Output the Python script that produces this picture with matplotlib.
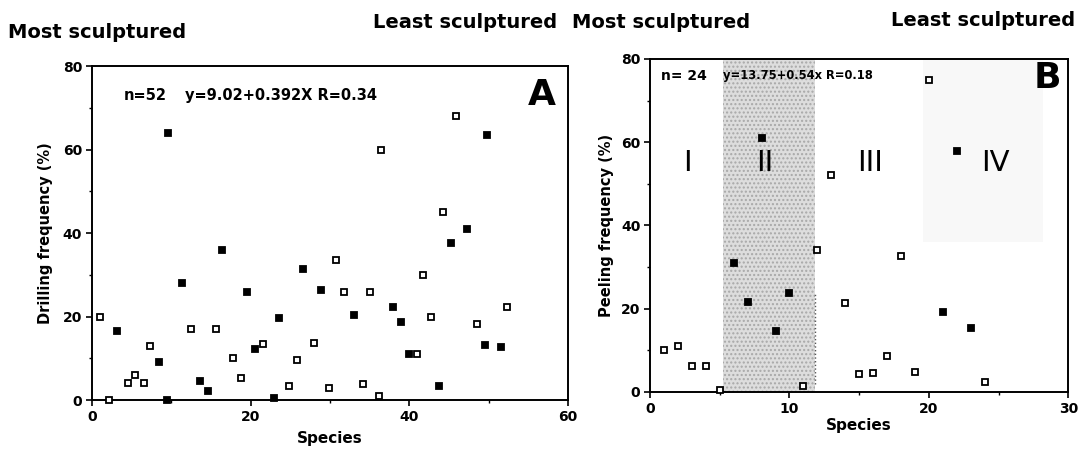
import matplotlib
matplotlib.use("Agg")
import matplotlib.pyplot as plt
from matplotlib.ticker import MultipleLocator

plt.rcParams['font.family'] = ['DejaVu Sans']
plt.rcParams['font.weight'] = 'bold'

# Panel A: drilling frequency vs species (n=52)
a_x = [1, 2.2, 3.2, 4.5, 5.4, 6.5, 7.3, 8.4, 9.5, 9.6,
       11.3, 12.5, 13.6, 14.6, 15.6, 16.4, 17.8, 18.8, 19.5, 20.6,
       21.6, 23, 23.6, 24.8, 25.8, 26.6, 28, 28.9, 29.9, 30.7,
       31.8, 33, 34.1, 35, 36.2, 36.4, 38, 39, 40, 41,
       41.7, 42.7, 43.8, 44.2, 45.3, 45.9, 47.3, 48.5, 49.5, 49.8,
       51.5, 52.3]
a_y = [20, 0, 16.5, 4, 6, 4, 13, 9, 0, 64,
       28, 17, 4.5, 2.2, 17, 36, 10, 5.2, 26, 12.2,
       13.4, 0.6, 19.6, 3.4, 9.5, 31.3, 13.6, 26.4, 2.9, 33.6,
       25.8, 20.4, 3.9, 25.8, 1, 60, 22.4, 18.8, 11, 11,
       30, 20, 3.4, 45, 37.6, 68, 41, 18.2, 13.3, 63.6,
       12.6, 22.4]
a_filled = [0, 0, 1, 0, 0, 0, 0, 1, 1, 1,
            1, 0, 1, 1, 0, 1, 0, 0, 1, 1,
            0, 1, 1, 0, 0, 1, 0, 1, 0, 0,
            0, 1, 0, 0, 0, 0, 1, 1, 1, 0,
            0, 0, 1, 0, 1, 0, 1, 0, 1, 1,
            1, 0]

# Panel B: peeling frequency vs species (n=24)
b_x = list(range(1, 25))
b_y = [10, 11, 6.3, 6.3, 0.5, 31, 21.6, 61, 14.7, 23.8,
       1.4, 34.1, 52.2, 21.3, 4.4, 4.5, 8.6, 32.7, 4.9, 75,
       19.2, 58, 15.4, 2.5]
b_filled = [0, 0, 0, 0, 0, 1, 1, 1, 1, 1,
            0, 0, 0, 0, 0, 0, 0, 0, 0, 0,
            1, 1, 1, 0]

zones = ['I', 'II', 'III', 'IV']
zone_x = [2.7, 8.2, 15.8, 24.8]


def draw_points(ax, xs, ys, filled):
    for x, y, f in zip(xs, ys, filled):
        ax.plot(x, y, 's', ms=4.2, mec='black', mew=1.3,
                mfc='black' if f else 'white', zorder=5, clip_on=False)


def style_axis(ax, xmax, xmajor, xminor):
    ax.set_xlim(0, xmax)
    ax.set_ylim(0, 80)
    ax.xaxis.set_major_locator(MultipleLocator(xmajor))
    ax.xaxis.set_minor_locator(MultipleLocator(xminor))
    ax.yaxis.set_major_locator(MultipleLocator(20))
    ax.yaxis.set_minor_locator(MultipleLocator(10))
    ax.tick_params(which='major', direction='out', length=4, width=1.2,
                   labelsize=10, pad=3)
    ax.tick_params(which='minor', direction='out', length=2.5, width=1)
    for s in ax.spines.values():
        s.set_linewidth(1.4)
    for lab in ax.get_xticklabels() + ax.get_yticklabels():
        lab.set_fontweight('bold')


fig = plt.figure(figsize=(10.78, 4.5), dpi=100)

axA = fig.add_axes([0.0853, 0.111, 0.4416, 0.742])
style_axis(axA, 60, 20, 10)
draw_points(axA, a_x, a_y, a_filled)
axA.set_xlabel('Species', fontsize=11, fontweight='bold', labelpad=5)
axA.set_ylabel('Drilling frequency (%)', fontsize=10.5, fontweight='bold', labelpad=7)
axA.text(4, 73, 'n=52', fontsize=10.5, fontweight='bold', va='center')
axA.text(11.7, 73, 'y=9.02+0.392X R=0.34', fontsize=10.5, fontweight='bold', va='center')
axA.text(58.5, 73, 'A', fontsize=26, fontweight='bold', ha='right', va='center')

axB = fig.add_axes([0.603, 0.129, 0.388, 0.74])
style_axis(axB, 30, 10, 5)
axB.axvspan(5.2, 11.8, facecolor='#dddddd', edgecolor='#a8a8a8',
            hatch='....', linewidth=0, zorder=0)
axB.axvspan(19.6, 28.2, ymin=0.45, facecolor='#f8f8f8', linewidth=0, zorder=0)
axB.plot([11.8, 11.8], [2, 24], ls=':', color='#555555', lw=1, zorder=1)
draw_points(axB, b_x, b_y, b_filled)
for z, zx in zip(zones, zone_x):
    axB.text(zx, 55, z, fontsize=21, fontweight='normal', ha='center', va='center')
axB.set_xlabel('Species', fontsize=11, fontweight='bold', labelpad=2)
axB.set_ylabel('Peeling frequency (%)', fontsize=10.5, fontweight='bold', labelpad=5)
axB.text(0.8, 76, 'n= 24', fontsize=10, fontweight='bold', va='center')
axB.text(5.2, 76, 'y=13.75+0.54x R=0.18', fontsize=8.3, fontweight='bold', va='center')
axB.text(29.5, 75.5, 'B', fontsize=26, fontweight='bold', ha='right', va='center')

# Header labels
fig.text(8 / 1078, 1 - 33 / 450, 'Most sculptured', fontsize=14, fontweight='bold', va='center')
fig.text(557 / 1078, 1 - 22 / 450, 'Least sculptured', fontsize=14, fontweight='bold',
         va='center', ha='right')
fig.text(572 / 1078, 1 - 22 / 450, 'Most sculptured', fontsize=14, fontweight='bold', va='center')
fig.text(1075 / 1078, 1 - 20 / 450, 'Least sculptured', fontsize=14, fontweight='bold',
         va='center', ha='right')

fig.savefig('out.png', dpi=100)
